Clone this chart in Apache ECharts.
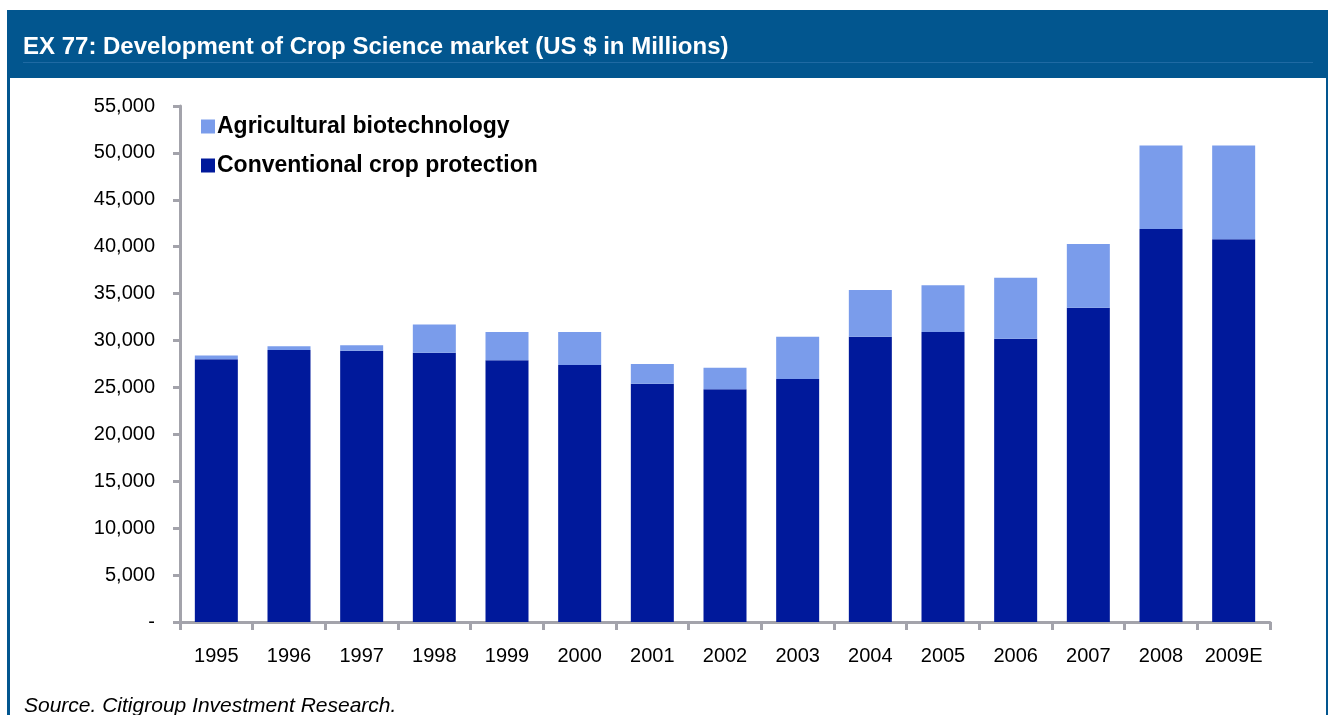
<!DOCTYPE html>
<html>
<head>
<meta charset="utf-8">
<script src="https://cdn.jsdelivr.net/npm/echarts@6/dist/echarts.min.js"></script>
<style>
html,body{margin:0;padding:0;background:#fff;}
#c{width:1328px;height:715px;}
</style>
</head>
<body>
<div id="c"></div>
<script>
const categories = ['1995','1996','1997','1998','1999','2000','2001','2002','2003','2004','2005','2006','2007','2008','2009E'];
const conventional = [28000,29000,28900,28700,27900,27400,25400,24800,25900,30400,30900,30200,33500,41900,40800];
const biotech = [400,400,600,3000,3000,3500,2100,2300,4500,5000,5000,6500,6800,8900,10000];
const yTicks = [0,5000,10000,15000,20000,25000,30000,35000,40000,45000,50000,55000];

const chart = echarts.init(document.getElementById('c'), null, {renderer:'canvas'});
const FONT = '"Liberation Sans", Arial, sans-serif';
const axisGray = '#a3a3ab';
chart.setOption({
  animation:false,
  backgroundColor:'#ffffff',
  graphic:[
    {type:'rect', shape:{x:7,y:10,width:1321,height:68}, style:{fill:'#02568f'}, z:0},
    {type:'rect', shape:{x:7,y:78,width:3,height:637}, style:{fill:'#02568f'}, z:0},
    {type:'rect', shape:{x:1326,y:78,width:2,height:637}, style:{fill:'#02568f'}, z:0},
    {type:'rect', shape:{x:23,y:62,width:1290,height:1}, style:{fill:'#1f6aa3'}, z:1},
    {type:'text', x:23, y:47, style:{text:'EX 77: Development of Crop Science market (US $ in Millions)', fill:'#ffffff', font:'bold 24px '+FONT, textVerticalAlign:'middle'}, z:2},
    {type:'text', x:24, y:706, style:{text:'Source. Citigroup Investment Research.', fill:'#000000', font:'italic 21px '+FONT, textVerticalAlign:'middle'}, z:2}
  ],
  legend:{
    orient:'vertical', left:196, top:110,
    data:['Agricultural biotechnology','Conventional crop protection'],
    itemWidth:14, itemHeight:14, itemGap:16,
    icon:'rect',
    textStyle:{fontFamily:FONT, fontWeight:'bold', fontSize:23, color:'#000', padding:[0,0,0,-3]},
  },
  grid:{left:180, right:58, top:106, bottom:93, containLabel:false},
  xAxis:{
    type:'category', data:categories, boundaryGap:true,
    axisLine:{lineStyle:{color:axisGray, width:3}},
    axisTick:{show:true, length:8, lineStyle:{color:axisGray, width:3}},
    axisLabel:{fontFamily:FONT, fontSize:20, color:'#000', margin:24, interval:0}
  },
  yAxis:{
    type:'value', min:0, max:55000, interval:5000,
    splitLine:{show:false},
    axisLine:{show:true, lineStyle:{color:axisGray, width:3}},
    axisTick:{show:true, length:7, lineStyle:{color:axisGray, width:3}},
    axisLabel:{fontFamily:FONT, fontSize:20, color:'#000', margin:25,
      formatter:v=> v===0 ? '-' : v.toLocaleString('en-US')}
  },
  series:[
    {name:'Conventional crop protection', type:'bar', stack:'t', data:conventional, barWidth:43, itemStyle:{color:'#00199b'}},
    {name:'Agricultural biotechnology', type:'bar', stack:'t', data:biotech, barWidth:43, itemStyle:{color:'#7a9ceb'}}
  ]
});
</script>
</body>
</html>
